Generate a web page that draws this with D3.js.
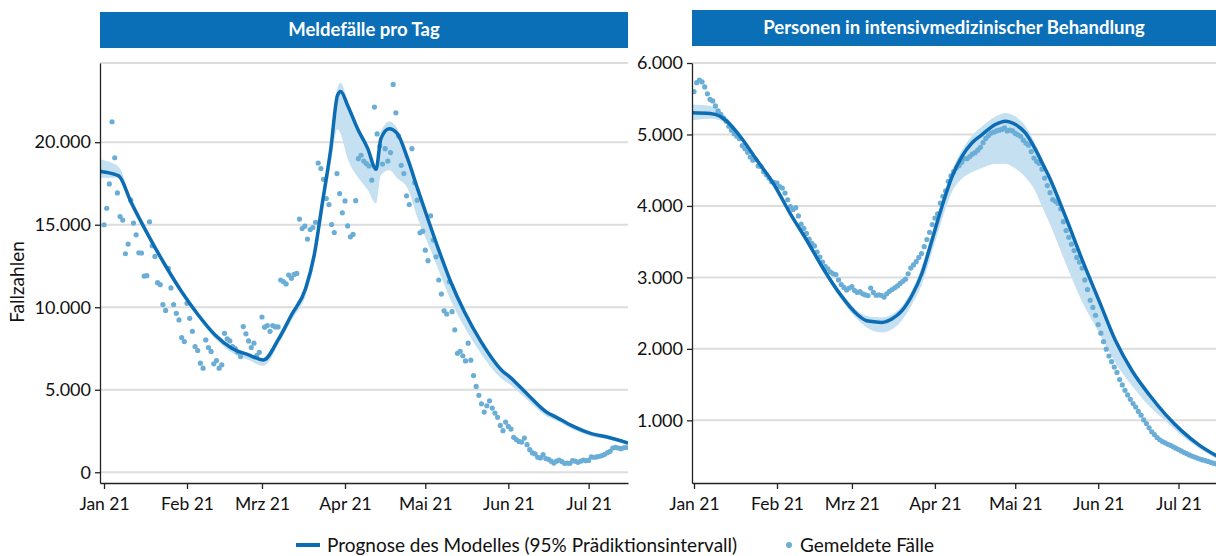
<!DOCTYPE html>
<html>
<head>
<meta charset="utf-8">
<script src="https://cdn.jsdelivr.net/npm/d3@7"></script>
<style>
  body { margin: 0; background: #fff; }
  svg text { font-family: Lato, "Open Sans", sans-serif; }
</style>
</head>
<body>
<svg id="chart" width="1216" height="556"></svg>
<script>
// month ticks on both x axes
var monthLabels = ["Jan 21", "Feb 21", "Mrz 21", "Apr 21", "Mai 21", "Jun 21", "Jul 21"];
var leftYTicks = [0, 5000, 10000, 15000, 20000];
var rightYTicks = [1000, 2000, 3000, 4000, 5000, 6000];

// reported cases per day, starting 1 Jan 2021
var leftObserved = [
  15000,16000,17470,21240,19060,16930,15500,15280,13240,13830,
  16490,15100,14390,13300,13280,11890,11910,15180,13720,13080,
  11490,11370,10160,9810,12350,11170,10160,9630,9230,8160,
  7920,10240,9330,8540,7620,7380,6610,6310,8020,7560,
  7320,6570,6770,6310,6510,8420,8080,7960,7620,7500,
  7270,7010,8830,8390,7960,7560,7820,7070,7270,9410,
  8790,8890,8540,8890,8810,8810,11650,11550,11410,11950,
  11750,11990,12050,15340,14770,14910,14130,14710,14830,15150,
  18740,18400,17750,16590,16220,15010,14530,18100,16890,15720,
  16440,14930,14270,14410,16460,19000,19210,18860,18700,18560,
  17700,22130,20500,19770,18680,19610,18860,19370,23500,21780,
  20370,18600,18100,16750,16220,19610,17550,16490,14510,14610,
  13460,12820,15540,14070,13060,11650,10800,9780,9590,11550,
  9730,8630,7210,7330,7060,6750,7820,6790,5860,5200,
  4660,4150,3650,4030,4330,3890,3590,3330,2840,2520,
  3040,2780,2620,2120,1980,1870,1830,2070,1670,1370,
  1170,1110,910,870,1070,830,790,670,560,670,
  740,650,540,560,540,710,670,600,670,740,
  700,720,930,910,930,970,1010,1090,1190,1270,
  1470,1510,1470,1430,1480,1500
];

// model for the left panel: day since 1 Jan, fit, lower and upper bound
var leftModelDay = [-1.5,0,5.5,10,16.5,22.8,29,35.2,41.5,47.7,54,59.6,65,70,75.3,78.5,81.6,84.7,87.2,88.4,
  91,94.7,98.5,101.6,103.4,106.5,109.6,113.4,117.1,120.9,124.6,129.6,134.6,140.8,149,151.4,158.3,165.8,168.3,174.5,182,188.3,195.7];
var leftModelMid = [18250,18200,17960,16400,14370,12560,10940,9530,8320,7520,7110,6810,8020,9530,11140,13160,16380,19610,22840,23080,
  22230,20820,19610,18360,20210,20820,20510,19000,17190,15380,13660,11500,9730,7920,6110,5800,4700,3590,3390,2840,2340,2120,1770];
var leftModelLo = [17850,17850,17850,16250,14250,12450,10800,9350,8100,7250,6800,6450,7700,9200,10700,12600,15600,18700,20800,20500,
  19000,17900,17100,16280,18000,18300,17800,17200,15400,13900,12400,10400,8800,7200,5600,5350,4350,3350,3180,2650,2180,1980,1650];
var leftModelHi = [18950,18900,18500,16550,14480,12660,11040,9630,8400,7600,7200,6900,8100,9600,11200,13250,16500,19800,23300,23600,
  22500,21000,19800,18600,20600,21250,20800,19200,17350,15500,13750,11600,9800,7980,6150,5850,4740,3620,3420,2870,2360,2140,1790];

// persons in intensive care, starting 1 Jan 2021
var rightObserved = [
  5600,5725,5760,5735,5665,5570,5490,5470,5400,5330,
  5280,5230,5185,5115,5060,5010,4975,4940,4845,4800,
  4750,4685,4640,4650,4560,4550,4480,4435,4390,4340,
  4325,4320,4270,4250,4180,4085,3990,3950,3975,3860,
  3745,3685,3615,3535,3475,3440,3355,3285,3215,3155,
  3120,3075,3050,3040,2965,2900,2860,2825,2850,2870,
  2815,2790,2800,2770,2755,2745,2850,2790,2750,2755,
  2750,2725,2770,2805,2830,2854,2880,2915,2945,2975,
  3051,3130,3175,3220,3280,3333,3430,3530,3630,3740,
  3830,3890,4040,4135,4210,4345,4420,4480,4530,4565,
  4610,4665,4660,4690,4725,4745,4780,4820,4885,4945,
  4985,5020,5032,5050,5060,5070,5092,5050,5060,5050,
  5015,4995,4975,4920,4880,4850,4760,4670,4620,4595,
  4515,4390,4285,4185,4090,4065,4035,3960,3780,3655,
  3560,3465,3375,3280,3215,3130,2965,2830,2680,2580,
  2470,2340,2220,2100,1995,1900,1820,1745,1670,1570,
  1495,1420,1355,1295,1235,1185,1125,1072,1005,955,
  895,840,800,760,728,702,685,665,650,630,
  610,592,572,552,535,516,500,487,472,458,
  446,437,425,412,400,392
];

var rightModelDay = [-0.75,6,9.7,12.2,17.2,23.4,29.6,35.9,42.1,48.3,54.5,60.8,64.5,66.4,70.2,73.9,77.7,81.4,85.1,88.9,
  92.6,96.4,100.1,103.8,107.6,112.6,116.3,120.1,123.8,127.6,130.1,132.6,138.8,145.1,151.3,157.5,163.7,170,176.2,182.4,188.6,195.7];
var rightModelMid = [5305,5295,5256,5186,4975,4646,4318,3896,3520,3121,2769,2488,2394,2384,2370,2417,2534,2746,3051,3520,
  3989,4411,4693,4881,4998,5139,5186,5139,5022,4787,4600,4411,3849,3238,2675,2112,1690,1361,1080,845,657,493];
var rightModelLo = [5200,5220,5200,5150,4940,4610,4280,3860,3480,3080,2720,2420,2300,2260,2230,2270,2400,2620,2900,3350,
  3800,4200,4380,4470,4530,4590,4590,4520,4400,4200,3980,3780,3200,2650,2230,1800,1480,1200,990,780,610,455];
var rightModelHi = [5420,5400,5330,5240,5010,4680,4350,3930,3560,3160,2810,2540,2460,2450,2440,2480,2600,2820,3150,3620,
  4080,4500,4780,4980,5110,5250,5300,5250,5120,4860,4660,4460,3890,3270,2700,2135,1710,1380,1095,860,670,505];

var jan1 = new Date(2021, 0, 1);
function dayToDate(d) { return d3.timeMinute.offset(jan1, Math.round(d * 1440)); }

var months = d3.range(7).map(i => new Date(2021, i, 1));

var de = d3.formatLocale({ decimal: ",", thousands: ".", grouping: [3], currency: ["", " €"] });
var fmt = de.format(",");

var colors = {
  title: "#0b6fb7",
  line: "#0c6db4",
  dot: "#6aadd6",
  band: "#c5e0f0",
  grid: "#dddddd"
};

var svg = d3.select("#chart");

function drawPanel(p) {
  let x = d3.scaleTime()
    .domain([dayToDate(p.startDay), dayToDate(p.endDay)])
    .range([p.left, p.right]);
  let y = d3.scaleLinear()
    .domain(p.yDomain)
    .range([483, 63]);

  // title bar
  svg.append("rect")
    .attr("x", p.left).attr("y", p.barTop)
    .attr("width", p.right - p.left).attr("height", 36)
    .attr("fill", colors.title);
  svg.append("text")
    .attr("x", (p.left + Math.min(p.right, 1216)) / 2)
    .attr("y", p.barTop + 24)
    .attr("text-anchor", "middle")
    .attr("fill", "#fff")
    .attr("font-size", 18.5)
    .attr("font-weight", "bold")
    .text(p.title);

  // grid
  let gridVals = p.yTicks.concat(p.topLine ? [p.yDomain[1]] : []);
  svg.append("g").selectAll("line").data(gridVals).join("line")
    .attr("x1", p.left).attr("x2", p.right)
    .attr("y1", d => y(d)).attr("y2", d => y(d))
    .attr("stroke", colors.grid).attr("stroke-width", 2);

  let clip = "clip-" + p.id;
  svg.append("clipPath").attr("id", clip).append("rect")
    .attr("x", p.left).attr("y", 40).attr("width", p.right - p.left).attr("height", 443);

  let plot = svg.append("g").attr("clip-path", "url(#" + clip + ")");

  let model = p.modelDay.map((d, i) => ({ date: dayToDate(d), mid: p.modelMid[i], lo: p.modelLo[i], hi: p.modelHi[i] }));

  plot.append("path")
    .datum(model)
    .attr("fill", colors.band)
    .attr("d", d3.area().curve(d3.curveMonotoneX)
      .x(d => x(d.date)).y0(d => y(d.lo)).y1(d => y(d.hi)));

  plot.append("g").selectAll("circle")
    .data(p.observed)
    .join("circle")
    .attr("cx", (d, i) => x(d3.timeDay.offset(jan1, i)))
    .attr("cy", d => y(d))
    .attr("r", 2.6)
    .attr("fill", colors.dot);

  plot.append("path")
    .datum(model)
    .attr("fill", "none")
    .attr("stroke", colors.line)
    .attr("stroke-width", 3.5)
    .attr("stroke-linejoin", "round")
    .attr("d", d3.line().curve(d3.curveMonotoneX)
      .x(d => x(d.date)).y(d => y(d.mid)));

  // axes
  let yAxis = d3.axisLeft(y)
    .tickValues(p.yTicks)
    .tickFormat(fmt)
    .tickSize(5)
    .tickSizeOuter(0)
    .tickPadding(4);
  let gy = svg.append("g")
    .attr("transform", "translate(" + p.left + ",0)")
    .call(yAxis);

  let xAxis = d3.axisBottom(x)
    .tickValues(months)
    .tickFormat((d, i) => monthLabels[i])
    .tickSize(6)
    .tickSizeOuter(0)
    .tickPadding(9);
  let gx = svg.append("g")
    .attr("transform", "translate(0,483)")
    .call(xAxis);

  [gx, gy].forEach(g => {
    g.selectAll("path.domain").attr("stroke", "#222").attr("stroke-width", 1.3);
    g.selectAll(".tick line").attr("stroke", "#222").attr("stroke-width", 1.3);
    g.selectAll("text").attr("font-size", 17.5).attr("fill", "#111")
      .style("font-family", "Lato, 'Open Sans', sans-serif");
  });
  gy.selectAll("text").attr("font-size", 18);
}

drawPanel({
  id: "l", left: 100, right: 628, startDay: -1.5, endDay: 195.7,
  yDomain: [-650, 24800], yTicks: leftYTicks, topLine: true,
  barTop: 12, title: "Meldefälle pro Tag",
  observed: leftObserved,
  modelDay: leftModelDay, modelMid: leftModelMid, modelLo: leftModelLo, modelHi: leftModelHi
});

drawPanel({
  id: "r", left: 692, right: 1220, startDay: -0.75, endDay: 196.5,
  yDomain: [123, 6000], yTicks: rightYTicks, topLine: false,
  barTop: 10, title: "Personen in intensivmedizinischer Behandlung",
  observed: rightObserved,
  modelDay: rightModelDay, modelMid: rightModelMid, modelLo: rightModelLo, modelHi: rightModelHi
});

// y axis title
svg.append("text")
  .attr("transform", "translate(24,282) rotate(-90)")
  .attr("text-anchor", "middle")
  .attr("font-size", 19)
  .attr("fill", "#111")
  .text("Fallzahlen");

// legend
var legend = svg.append("g").attr("transform", "translate(0,545)");
legend.append("line")
  .attr("x1", 296).attr("x2", 320).attr("y1", 0).attr("y2", 0)
  .attr("stroke", colors.line).attr("stroke-width", 4);
legend.append("text")
  .attr("x", 327).attr("y", 6.5)
  .attr("font-size", 19).attr("fill", "#111")
  .text("Prognose des Modelles (95% Prädiktionsintervall)");
legend.append("circle")
  .attr("cx", 789).attr("cy", 0).attr("r", 3)
  .attr("fill", colors.dot);
legend.append("text")
  .attr("x", 800).attr("y", 6.5)
  .attr("font-size", 19).attr("fill", "#111")
  .text("Gemeldete Fälle");
</script>
</body>
</html>
